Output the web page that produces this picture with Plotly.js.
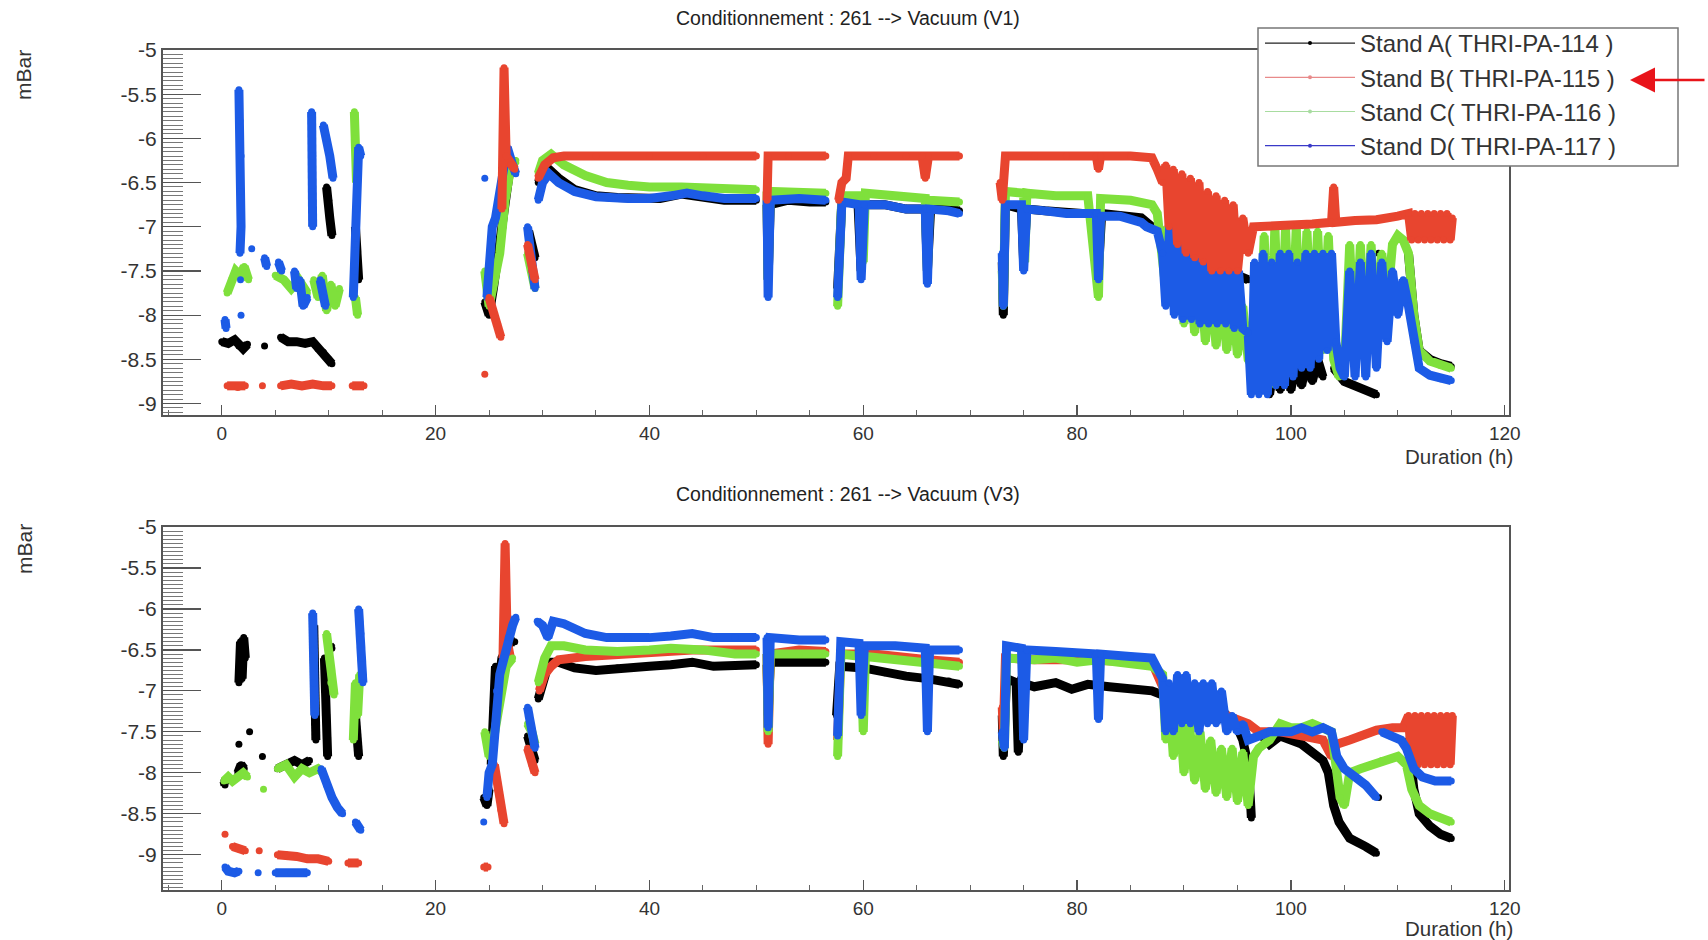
<!DOCTYPE html>
<html>
<head>
<meta charset="utf-8">
<script src="https://cdn.plot.ly/plotly-3.0.1.min.js"></script>
<style>html,body{margin:0;padding:0;background:#fff;}#chart{width:1708px;height:940px;}</style>
</head>
<body>
<div id="chart"></div>
<script>
// ---------- DATA (x = duration in h, y = log10 pressure in mBar); null = gap ----------
const seriesNames = ["Stand A( THRI-PA-114 )","Stand B( THRI-PA-115 )","Stand C( THRI-PA-116 )","Stand D( THRI-PA-117 )"];
const seriesColors = ["#000000","#e8452f","#7fe03c","#1c5be6"];
const legendColors = ["#222222","#e88a8a","#a8dca0","#3a3ac8"];

const xTickVals = [0,20,40,60,80,100,120];
const xTickText = ["0","20","40","60","80","100","120"];
const yTickVals = [-5,-5.5,-6,-6.5,-7,-7.5,-8,-8.5,-9];
const yTickText = ["-5","-5.5","-6","-6.5","-7","-7.5","-8","-8.5","-9"];

// ----- Panel V1 -----
const v1_A = [[0,-8.3],[0.6,-8.32],[1.2,-8.28],[1.6,-8.35],[2.0,-8.38],[2.4,-8.33],null,
[4.0,-8.35],null,
[5.5,-8.25],[6.2,-8.3],[7.0,-8.3],[7.8,-8.32],[8.5,-8.3],[9.0,-8.38],[9.5,-8.42],[10.0,-8.5],[10.3,-8.55],null,
[9.8,-6.55],[10.0,-6.7],[10.1,-6.9],[10.3,-7.1],null,
[12.5,-7.0],[12.6,-7.2],[12.7,-7.4],[12.8,-7.6],null,
[24.6,-7.85],[25.0,-8.0],[25.4,-7.7],[25.8,-7.3],[26.2,-6.9],[26.6,-6.5],[27.0,-6.3],[27.4,-6.25],null,
[28.7,-7.05],[29.0,-7.25],[29.3,-7.35],null,
[29.6,-6.5],[30.0,-6.4],[30.6,-6.35],[31.5,-6.45],[33,-6.58],[35,-6.65],[37,-6.67],[39,-6.68],[41,-6.68],[43,-6.63],[45,-6.66],[47,-6.7],[49,-6.7],[50,-6.7],null,
[51.0,-6.75],[51.1,-7.6],[51.3,-6.75],[53,-6.7],[55,-6.72],[56.5,-6.72],null,
[57.6,-7.7],[58.0,-6.7],[59.5,-6.72],[59.8,-7.5],[60.1,-6.75],[62,-6.75],[64,-6.8],[65.8,-6.8],[66.0,-7.5],[66.3,-6.8],[68,-6.8],[69,-6.82],null,
[73.0,-7.4],[73.1,-8.0],[73.3,-6.75],[74.8,-6.8],[75.0,-7.4],[75.3,-6.8],[77,-6.82],[79,-6.85],[80.5,-6.85],[81.8,-6.85],[82.0,-7.5],[82.3,-6.85],[84,-6.88],[86,-6.9],[87,-7.0],[88,-7.05],[89,-7.2],[90,-7.3],[91,-7.35],[92,-7.4],[93,-7.45],[94,-7.5],[95,-7.55],[96,-7.6],null,
[97.5,-8.45],[98.0,-8.9],[98.5,-8.5],[99.0,-8.85],[99.5,-8.5],[100,-8.85],[100.5,-8.5],[101,-8.8],[101.5,-8.5],[102,-8.75],[102.5,-8.5],[103,-8.7],null,
[104,-8.6],[105,-8.75],[106,-8.8],[107,-8.85],[108,-8.9],null,
[108.2,-7.3],null,
[111,-7.3],[111.5,-8.0],[112,-8.4],[113,-8.5],[114,-8.55],[115,-8.58]];

const v1_B = [[0.5,-8.8],[1.0,-8.8],[1.5,-8.82],[2.2,-8.8],null,[3.8,-8.8],null,
[5.5,-8.8],[6.5,-8.78],[7.5,-8.8],[8.5,-8.78],[9.5,-8.8],[10.3,-8.8],null,[12.2,-8.8],[13.3,-8.8],null,[24.6,-8.67],null,
[25.0,-7.8],[25.4,-7.95],[25.8,-8.1],[26.1,-8.25],null,
[26.2,-6.8],[26.4,-5.2],[26.6,-6.2],[27.0,-6.3],[27.4,-6.35],null,
[28.6,-7.2],[29.0,-7.5],[29.3,-7.6],null,
[29.6,-6.45],[30.2,-6.3],[31,-6.22],[32,-6.2],[35,-6.2],[40,-6.2],[45,-6.2],[50,-6.2],null,
[51.0,-6.7],[51.1,-6.2],[53,-6.2],[56.5,-6.2],null,
[57.7,-6.7],[58.0,-6.5],[58.4,-6.45],[58.6,-6.2],[61,-6.2],[64,-6.2],[65.5,-6.2],[65.8,-6.45],[66.1,-6.2],[69,-6.2],null,
[72.8,-6.5],[73.0,-6.7],[73.3,-6.2],[76,-6.2],[79,-6.2],[81.8,-6.2],[82,-6.35],[82.2,-6.2],[85,-6.2],[87,-6.22],[87.5,-6.35],[88,-6.5],
[88.3,-6.3],[88.6,-7.0],[89,-6.35],[89.4,-7.2],[89.8,-6.4],[90.2,-7.3],[90.6,-6.45],[91,-7.35],[91.4,-6.5],[91.8,-7.4],[92.2,-6.6],[92.6,-7.5],[93,-6.65],[93.4,-7.5],[93.8,-6.7],[94.2,-7.5],[94.6,-6.75],[95,-7.5],[95.5,-6.9],[96,-7.3],[96.5,-7.0],
[98,-7.0],[100,-6.98],[102,-6.97],[103.8,-6.95],[104,-6.55],[104.2,-6.95],[106,-6.93],[108,-6.92],[110,-6.88],[111,-6.85],
[111.3,-7.15],[111.6,-6.85],[111.9,-7.15],[112.2,-6.85],[112.5,-7.15],[112.8,-6.85],[113.1,-7.15],[113.4,-6.85],[113.7,-7.15],[114,-6.85],[114.3,-7.15],[114.6,-6.85],[114.9,-7.15],[115.1,-6.9]];

const v1_C = [[0.5,-7.75],[0.9,-7.6],[1.3,-7.5],[1.7,-7.55],[2.1,-7.45],[2.5,-7.6],null,
[5.0,-7.55],[5.8,-7.6],[6.5,-7.7],[7.2,-7.6],[8.0,-7.75],null,
[8.6,-7.6],[9.0,-7.8],[9.4,-7.55],[9.8,-7.95],[10.2,-7.65],[10.6,-7.9],[11.0,-7.7],null,
[12.4,-5.7],[12.5,-6.0],[12.6,-6.5],null,[12.5,-7.8],[12.7,-8.0],null,
[24.6,-7.5],[25.0,-7.9],[25.5,-7.6],[26.0,-7.3],[26.5,-6.7],[27.0,-6.35],[27.5,-6.25],null,
[28.6,-7.3],[29.0,-7.5],[29.3,-7.7],null,
[29.6,-6.4],[30.0,-6.25],[30.8,-6.18],[32,-6.3],[34,-6.42],[36,-6.5],[38,-6.53],[40,-6.55],[43,-6.55],[46,-6.57],[50,-6.58],null,
[51.0,-6.6],[51.1,-7.6],[51.3,-6.6],[54,-6.6],[56.5,-6.62],null,
[57.6,-7.9],[58.0,-6.65],[59.8,-6.65],[60.0,-7.4],[60.2,-6.62],[63,-6.65],[65.8,-6.68],[66.0,-7.5],[66.2,-6.7],[69,-6.72],null,
[73.0,-7.5],[73.1,-7.9],[73.3,-6.6],[75.0,-6.62],[75.1,-7.4],[75.3,-6.62],[78,-6.65],[81,-6.65],[82,-7.8],[82.2,-6.68],[85,-6.7],[87,-6.75],[87.5,-6.85],
[88.2,-7.6],[88.5,-7.0],[89,-7.9],[89.5,-7.2],[90,-8.1],[90.5,-7.4],[91,-8.2],[91.5,-7.5],[92,-8.3],[92.5,-7.6],[93,-8.35],[93.5,-7.7],[94,-8.4],[94.5,-7.8],[95,-8.45],[95.5,-7.9],[96,-8.5],[96.5,-8.6],[97,-8.8],
[97.5,-7.1],[98,-8.8],[98.5,-7.0],[99,-8.7],[99.5,-7.0],[100,-8.6],[100.5,-7.0],[101,-8.5],[101.5,-7.05],[102,-8.4],[102.5,-7.05],[103,-8.4],[103.5,-7.1],[104,-8.5],[104.5,-8.7],[105,-8.6],[105.5,-7.2],[106,-8.5],[106.5,-7.2],[107,-8.5],[107.5,-7.2],[108,-8.3],[108.5,-7.3],[109,-7.9],[109.5,-7.2],[110,-7.1],[110.5,-7.15],[111,-7.3],[111.5,-8.0],[112,-8.4],[113,-8.52],[114,-8.57],[115,-8.6]];

const v1_D = [[0.3,-8.05],[0.4,-8.15],null,
[1.6,-5.45],[1.7,-5.8],[1.8,-6.2],[1.75,-6.6],[1.8,-7.0],[1.7,-7.3],null,[1.75,-7.6],null,[1.8,-8.0],null,
[2.8,-7.25],null,[4.0,-7.35],[4.2,-7.45],null,[5.3,-7.4],[5.6,-7.5],null,
[6.8,-7.5],[7.0,-7.7],[7.3,-7.6],[7.6,-7.9],[8.0,-7.8],null,
[8.4,-5.7],[8.5,-6.2],[8.45,-6.6],[8.5,-7.0],null,
[9.2,-7.6],[9.5,-7.8],[9.7,-7.9],null,
[9.5,-5.85],[9.8,-6.0],[10.1,-6.2],[10.4,-6.45],null,
[12.3,-7.8],[12.4,-7.5],[12.5,-7.2],[12.6,-6.8],[12.7,-6.4],[12.8,-6.1],[13.0,-6.2],null,
[24.6,-6.45],null,
[24.8,-7.8],[25.0,-7.5],[25.3,-7.0],[25.6,-6.9],[26.0,-6.6],[26.4,-6.3],[26.7,-6.1],[27.2,-6.3],[27.5,-6.4],null,
[28.6,-7.0],[29.0,-7.4],[29.3,-7.7],null,
[29.6,-6.7],[30.0,-6.5],[30.6,-6.4],[31.5,-6.5],[33,-6.6],[35,-6.66],[38,-6.68],[40,-6.68],[42,-6.65],[43.5,-6.62],[45,-6.65],[47,-6.68],[50,-6.68],null,
[51.0,-6.7],[51.1,-7.8],[51.3,-6.7],[54,-6.68],[56.5,-6.7],null,
[57.6,-7.8],[58.0,-6.72],[59.6,-6.75],[59.8,-7.6],[60.1,-6.75],[62,-6.75],[64,-6.8],[65.8,-6.8],[66.0,-7.65],[66.2,-6.8],[68,-6.82],[69,-6.85],null,
[73.0,-7.3],[73.1,-7.9],[73.3,-6.75],[74.8,-6.75],[75.0,-7.5],[75.3,-6.8],[77,-6.82],[79,-6.85],[81.8,-6.85],[82.0,-7.6],[82.2,-6.88],[84,-6.88],[86,-6.95],[86.5,-7.0],[87.5,-7.05],[88,-7.3],
[88.3,-7.9],[88.7,-6.9],[89.1,-8.0],[89.5,-7.0],[89.9,-8.05],[90.3,-6.8],[90.7,-8.05],[91.1,-7.2],[91.5,-8.1],[91.9,-7.3],[92.3,-8.1],[92.7,-7.2],[93.1,-8.1],[93.5,-7.0],[93.9,-8.1],[94.3,-7.4],[94.7,-8.15],[95.1,-7.5],[95.5,-8.15],[96.0,-8.2],
[96.3,-8.9],[96.6,-7.4],[97.0,-8.9],[97.4,-7.3],[97.8,-8.9],[98.2,-7.4],[98.6,-8.8],[99.0,-7.3],[99.4,-8.8],[99.8,-7.3],[100.2,-8.7],[100.6,-7.4],[101.0,-8.6],[101.4,-7.3],[101.8,-8.6],[102.2,-7.3],[102.6,-8.5],[103.0,-7.3],[103.4,-8.4],[103.8,-7.3],[104.2,-8.3],[104.6,-8.6],[105.0,-8.7],
[105.5,-7.5],[106.0,-8.7],[106.5,-7.4],[107.0,-8.7],[107.5,-7.3],[108.0,-8.6],[108.5,-7.4],[109.0,-8.3],[109.5,-7.5],[110.0,-8.0],[110.5,-7.6],[111.0,-7.9],[111.5,-8.3],[112,-8.6],[113,-8.68],[114,-8.72],[115,-8.74]];

// ----- Panel V3 -----
const v3_A = [[0.2,-8.1],[0.3,-8.15],null,
[1.6,-6.9],[1.75,-6.4],[1.9,-6.85],[2.05,-6.35],[2.2,-6.6],null,
[1.5,-8.0],[1.8,-7.9],[2.1,-7.95],null,[2.6,-7.5],null,[1.6,-7.65],null,[3.8,-7.8],null,
[5.2,-7.95],[6.0,-7.9],[6.8,-7.85],[7.5,-7.9],[8.2,-7.85],null,
[8.6,-6.2],[8.6,-6.6],[8.7,-7.0],[8.7,-7.4],[8.8,-7.6],null,
[9.6,-6.6],[9.7,-7.0],[9.75,-7.3],[9.8,-7.6],[9.9,-7.8],null,
[10.1,-6.45],[10.3,-6.48],null,
[12.5,-7.3],[12.7,-7.6],[12.8,-7.8],null,
[24.5,-8.3],[24.8,-8.4],[25.0,-8.2],null,
[25.2,-7.9],[25.4,-7.2],[25.6,-6.7],[25.9,-6.9],[26.2,-6.6],[26.6,-6.5],[27.0,-6.4],[27.4,-6.4],null,
[28.6,-7.55],[29.0,-7.75],[29.3,-7.85],null,
[29.6,-7.1],[30.0,-6.9],[30.6,-6.65],[31.5,-6.65],[33,-6.72],[35,-6.75],[37,-6.72],[40,-6.7],[42,-6.68],[44,-6.65],[46,-6.7],[48,-6.7],[50,-6.68],null,
[51.0,-6.68],[51.1,-7.3],[51.3,-6.65],[53,-6.65],[56.5,-6.65],null,
[57.5,-7.3],[57.8,-6.7],[60,-6.72],[62,-6.78],[64,-6.82],[66,-6.85],[68,-6.88],[69,-6.92],null,
[73.0,-7.3],[73.1,-7.8],[73.4,-6.85],[74.3,-6.9],[74.5,-7.75],[74.8,-6.9],[76,-6.95],[78,-6.9],[79.5,-6.98],[81,-6.92],[83,-6.95],[85,-6.98],[87,-7.0],[88,-7.05],
[89,-7.15],[90,-7.2],[91,-7.3],[92,-7.25],[93,-7.35],[94,-7.3],[95,-7.45],[95.5,-7.6],[96,-7.9],[96.2,-8.3],[96.3,-8.55],null,
[97,-7.5],[98,-7.65],[99,-7.55],[100,-7.6],[101,-7.65],[102,-7.75],[103,-7.85],[103.5,-8.0],[104,-8.4],[104.5,-8.6],[105.5,-8.8],[107,-8.9],[108,-8.98],null,
[108.2,-8.3],null,
[111,-7.6],[111.5,-8.2],[112,-8.5],[113,-8.65],[114,-8.75],[115,-8.8]];

const v3_B = [[0.3,-8.75],null,[1.0,-8.9],[1.6,-8.93],[2.2,-8.95],null,[3.5,-8.95],null,
[5.2,-9.0],[6.0,-9.0],[7.0,-9.02],[8.0,-9.05],[9.0,-9.05],[10.0,-9.08],null,[11.8,-9.1],[12.8,-9.1],null,
[24.5,-9.15],[24.9,-9.15],null,
[25.5,-7.9],[25.8,-8.2],[26.1,-8.45],[26.4,-8.62],null,
[26.3,-6.6],[26.5,-5.2],[26.7,-6.4],[27.0,-6.6],null,
[28.6,-7.7],[29.0,-7.9],[29.3,-8.0],null,
[29.7,-7.0],[30.2,-6.8],[30.8,-6.7],[31.5,-6.62],[34,-6.58],[37,-6.55],[40,-6.52],[44,-6.5],[48,-6.5],[50,-6.5],null,
[51.0,-6.55],[51.1,-7.65],[51.3,-6.55],[54,-6.5],[56.5,-6.52],null,
[57.6,-7.6],[57.9,-6.55],[61,-6.55],[64,-6.6],[66,-6.62],[69,-6.65],null,
[73.0,-7.2],[73.1,-7.5],[73.3,-6.6],[76,-6.62],[80,-6.62],[84,-6.65],[87,-6.65],[88,-6.95],[89,-7.0],[90,-7.1],[91,-7.15],[92,-7.2],[93,-7.25],[94,-7.3],[95,-7.35],[96,-7.4],
[97,-7.5],[99,-7.5],[101,-7.55],[103,-7.6],[103.8,-7.8],[104.3,-7.65],[105.5,-7.6],[106.5,-7.55],[108,-7.48],[109.5,-7.45],[110.5,-7.45],
[111.0,-7.3],[111.3,-7.9],[111.6,-7.3],[111.9,-7.9],[112.2,-7.3],[112.5,-7.9],[112.8,-7.3],[113.1,-7.9],[113.4,-7.3],[113.7,-7.9],[114.0,-7.3],[114.3,-7.9],[114.6,-7.3],[114.9,-7.9],[115.1,-7.3]];

const v3_C = [[0.2,-8.1],[0.6,-8.05],[1.0,-8.1],[1.5,-8.05],[2.0,-8.0],[2.4,-8.05],null,[3.9,-8.2],null,
[5.2,-7.95],[6.0,-7.9],[6.8,-8.05],[7.5,-7.95],[8.2,-8.0],[9.0,-7.95],[9.5,-8.0],null,
[9.8,-6.3],[10.0,-6.6],[10.2,-6.9],[10.5,-7.05],null,
[12.3,-7.6],[12.5,-6.9],[12.7,-7.3],[12.9,-6.8],null,
[24.6,-7.5],[25.0,-7.8],[25.4,-7.6],[25.8,-7.3],[26.2,-7.0],[26.6,-6.7],[27.2,-6.6],null,
[28.6,-7.4],[29.0,-7.5],[29.3,-7.65],null,
[29.6,-6.9],[30.2,-6.6],[30.8,-6.45],[32,-6.45],[34,-6.5],[37,-6.52],[40,-6.5],[42,-6.48],[45,-6.5],[48,-6.55],[50,-6.55],null,
[51.0,-6.55],[51.1,-7.5],[51.3,-6.55],[54,-6.55],[56.5,-6.55],null,
[57.6,-7.8],[57.9,-6.55],[59.8,-6.58],[60.0,-7.5],[60.2,-6.58],[63,-6.62],[66,-6.68],[69,-6.7],null,
[73.0,-7.6],[73.2,-7.7],[73.4,-6.6],[76,-6.62],[78,-6.6],[80,-6.65],[82,-6.62],[84,-6.65],[87,-6.7],[88,-6.8],
[88.3,-7.6],[88.6,-7.0],[89,-7.8],[89.5,-7.1],[90,-8.0],[90.5,-7.4],[91,-8.1],[91.5,-7.5],[92,-8.2],[92.5,-7.6],[93,-8.25],[93.5,-7.7],[94,-8.3],[94.5,-7.7],[95,-8.35],[95.5,-7.75],[96,-8.4],[96.5,-7.8],
[97,-7.7],[98,-7.6],[99,-7.4],[100,-7.45],[101,-7.45],[102,-7.4],[103,-7.45],[103.8,-7.5],[104.2,-7.9],[104.6,-8.3],[105,-8.4],[105.5,-8.0],[106.5,-7.95],[107.5,-7.9],[108.5,-7.85],[110,-7.8],[110.8,-7.9],[111.3,-8.2],[112,-8.4],[113,-8.5],[114,-8.55],[115,-8.6]];

const v3_D = [[0.3,-9.15],[0.6,-9.2],[1.2,-9.22],[1.6,-9.2],null,[3.4,-9.22],null,
[5.0,-9.22],[6.5,-9.22],[8.0,-9.22],null,
[8.5,-6.05],[8.6,-6.5],[8.6,-6.9],[8.7,-7.3],null,
[9.3,-7.95],[9.8,-8.15],[10.3,-8.3],[10.8,-8.42],[11.3,-8.5],null,
[12.5,-8.6],[13.0,-8.7],null,
[12.8,-6.0],[13.0,-6.3],[13.1,-6.6],[13.2,-6.9],null,
[24.5,-8.6],null,
[24.8,-8.3],[25.0,-8.0],[25.3,-7.9],[25.5,-7.6],[25.7,-7.0],[26.0,-6.8],[26.4,-6.6],[26.8,-6.35],[27.2,-6.2],[27.5,-6.1],null,
[28.6,-7.2],[29.0,-7.5],[29.3,-7.7],null,
[29.5,-6.15],[30.0,-6.2],[30.5,-6.35],[31.0,-6.15],[32,-6.18],[34,-6.3],[36,-6.35],[38,-6.36],[40,-6.35],[42,-6.33],[44,-6.3],[46,-6.35],[48,-6.35],[50,-6.35],null,
[51.0,-6.35],[51.1,-7.45],[51.3,-6.35],[54,-6.38],[56.5,-6.38],null,
[57.6,-7.55],[57.9,-6.4],[59.6,-6.42],[59.8,-7.3],[60.1,-6.45],[63,-6.45],[65.8,-6.48],[66.0,-7.5],[66.2,-6.5],[69,-6.5],null,
[73.0,-7.5],[73.2,-7.7],[73.4,-6.45],[74.8,-6.48],[75.0,-7.6],[75.3,-6.5],[78,-6.52],[81.8,-6.55],[82.0,-7.35],[82.2,-6.55],[85,-6.58],[87,-6.6],[88,-6.85],
[88.3,-7.5],[88.6,-6.9],[89.0,-7.5],[89.4,-6.8],[89.8,-7.4],[90.2,-6.8],[90.6,-7.4],[91.0,-6.9],[91.4,-7.5],[91.8,-6.9],[92.2,-7.4],[92.6,-6.9],[93.0,-7.4],[93.5,-7.0],[94.0,-7.5],[94.5,-7.3],[95.0,-7.5],[95.5,-7.4],[96.0,-7.6],
[97,-7.55],[98,-7.5],[99,-7.5],[100,-7.5],[101,-7.45],[102,-7.5],[103,-7.45],[103.8,-7.5],[104.3,-7.8],[105,-7.95],[106,-8.05],[107,-8.15],[108,-8.3],null,
[108.5,-7.5],[109.3,-7.55],[110.3,-7.6],[110.8,-7.7],[111.5,-7.95],[112.3,-8.05],[113.5,-8.1],[115,-8.1]];

// ---------- BUILD ----------
function xs(p){return p.map(function(d){return d===null?null:d[0];});}
function ys(p){return p.map(function(d){return d===null?null:d[1];});}

function dataTrace(pairs, idx, xa, ya){
  return {x: xs(pairs), y: ys(pairs), xaxis: xa, yaxis: ya, type:'scatter', mode:'lines+markers',
    connectgaps:false, showlegend:false, hoverinfo:'skip',
    line:{color: seriesColors[idx], width:9}, marker:{color: seriesColors[idx], size:7}};
}

const traces = [];
// top panel: red drawn last so its oscillating block shows over the others
[[v1_A,0],[v1_C,2],[v1_D,3],[v1_B,1]].forEach(function(s){traces.push(dataTrace(s[0], s[1], 'x', 'y'));});
[[v3_A,0],[v3_B,1],[v3_C,2],[v3_D,3]].forEach(function(s){traces.push(dataTrace(s[0], s[1], 'x2', 'y2'));});
// legend entries
for (let i=0;i<4;i++){
  traces.push({x:[-100], y:[-100], xaxis:'x', yaxis:'y', type:'scatter', mode:'lines+markers',
    name: seriesNames[i], showlegend:true, hoverinfo:'skip',
    line:{color: legendColors[i], width:1.2}, marker:{color: i===0?'#000':legendColors[i], size:4}});
}

const W=1708, H=940;
function px(x){return x/W;} function py(y){return 1-y/H;}

function xAxis(anchor){
  return {domain:[px(163),px(1509)], range:[-5.5,120.4], anchor:anchor,
    tickmode:'array', tickvals:xTickVals, ticktext:xTickText,
    ticks:'inside', ticklen:10, tickwidth:1.2, tickcolor:'#555',
    minor:{tickmode:'linear', tick0:0, dtick:5, ticks:'inside', ticklen:5, tickwidth:1, tickcolor:'#666', showgrid:false},
    showline:true, mirror:true, linecolor:'#555', linewidth:2,
    showgrid:false, zeroline:false, tickfont:{size:19, color:'#333'}, automargin:false, fixedrange:true};
}
function yAxis(anchor, dom, rng){
  return {domain:dom, range:rng, anchor:anchor,
    tickmode:'array', tickvals:yTickVals, ticktext:yTickText,
    ticks:'inside', ticklen:38, tickwidth:1.2, tickcolor:'#555',
    minor:{tickmode:'linear', tick0:-5, dtick:0.05, ticks:'inside', ticklen:20, tickwidth:1, tickcolor:'#777', showgrid:false},
    showline:true, mirror:true, linecolor:'#555', linewidth:2,
    showgrid:false, zeroline:false, tickfont:{size:21, color:'#333'}, automargin:false, fixedrange:true};
}

const layout = {
  width:W, height:H, margin:{l:0,r:0,t:0,b:0},
  paper_bgcolor:'#ffffff', plot_bgcolor:'#ffffff',
  font:{family:'"Liberation Sans", Arial, Helvetica, sans-serif', color:'#333'},
  showlegend:true,
  xaxis: xAxis('y'),
  yaxis: yAxis('x', [py(415), py(50)], [-9.13,-5]),
  xaxis2: xAxis('y2'),
  yaxis2: yAxis('x2', [py(890), py(527)], [-9.43,-5]),
  legend:{x:px(1260), y:py(21), xanchor:'left', yanchor:'top', bgcolor:'rgba(0,0,0,0)',
    borderwidth:0, font:{size:24, color:'#333'}, itemwidth:90,
    tracegroupgap:0, itemclick:false, itemdoubleclick:false},
  shapes:[
    {type:'rect', xref:'paper', yref:'paper', x0:px(1258), x1:px(1678), y0:py(166), y1:py(28),
     fillcolor:'#ffffff', line:{color:'#777', width:1.5}, layer:'above'}
  ],
  annotations:[
    {text:'Conditionnement : 261 --&gt; Vacuum (V1)', x:px(848), y:py(18.5), xref:'paper', yref:'paper', showarrow:false, xanchor:'center', yanchor:'middle', font:{size:19.5, color:'#222'}},
    {text:'Conditionnement : 261 --&gt; Vacuum (V3)', x:px(848), y:py(493.5), xref:'paper', yref:'paper', showarrow:false, xanchor:'center', yanchor:'middle', font:{size:19.5, color:'#222'}},
    {text:'Duration (h)', x:px(1515), y:py(456), xref:'paper', yref:'paper', showarrow:false, xanchor:'right', yanchor:'middle', font:{size:20.5, color:'#333'}},
    {text:'Duration (h)', x:px(1515), y:py(928), xref:'paper', yref:'paper', showarrow:false, xanchor:'right', yanchor:'middle', font:{size:20.5, color:'#333'}},
    {text:'mBar', x:px(24), y:py(75), xref:'paper', yref:'paper', showarrow:false, textangle:-90, xanchor:'center', yanchor:'middle', font:{size:21, color:'#333'}},
    {text:'mBar', x:px(24), y:py(549), xref:'paper', yref:'paper', showarrow:false, textangle:-90, xanchor:'center', yanchor:'middle', font:{size:21, color:'#333'}},
    {text:'', x:px(1630), y:py(80), xref:'paper', yref:'paper', showarrow:true, ax:76, ay:0, axref:'pixel', ayref:'pixel',
     arrowhead:2, arrowsize:2, arrowwidth:2.5, arrowcolor:'#e8141a', standoff:0}
  ]
};

Plotly.newPlot('chart', traces, layout, {displayModeBar:false, staticPlot:true});
</script>
</body>
</html>
